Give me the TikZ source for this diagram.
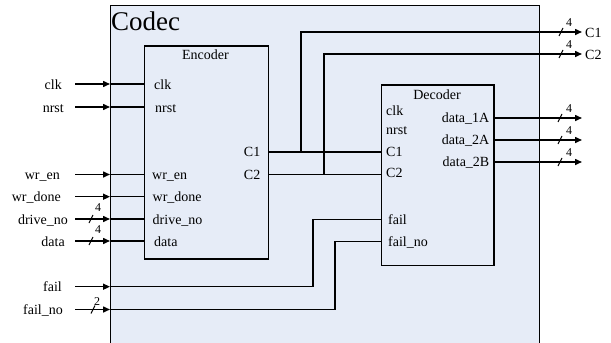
\documentclass[tikz,border=0pt]{standalone}
\usepackage{fontspec}
\setmainfont{Liberation Serif}
\usetikzlibrary{arrows.meta}
\definecolor{boxfill}{RGB}{230,236,247}
\begin{document}
\begin{tikzpicture}[x=1pt,y=-1pt,
  wire/.style={line width=1.5pt},
  arr/.style={wire,-{Triangle[length=7pt,width=6pt]}},
  blk/.style={draw=black,line width=1.5pt,fill=boxfill,inner sep=0pt},
  port/.style={font=\fontsize{14}{16}\selectfont,inner sep=0pt},
  slashmark/.style={line width=1pt},
  busw/.style={font=\fontsize{12}{13}\selectfont,inner sep=0pt}
]
\useasboundingbox (0,0) rectangle (611,343);
% Codec outer block
\node[blk,line width=1.3pt,minimum width=428.5pt,minimum height=338pt,anchor=north west] (codec) at (110,5) {};
\node[anchor=base west,font=\fontsize{27}{29}\selectfont,inner sep=0pt] (title) at (111,30) {Codec};
% Encoder
\node[blk,minimum width=124pt,minimum height=213pt,anchor=north west] (enc) at (143.5,45) {};
\node[port,anchor=base] (enct) at (205.5,59.3) {Encoder};
% Decoder
\node[blk,minimum width=112.5pt,minimum height=180.5pt,anchor=north west] (dec) at (380.5,84) {};
\node[port,anchor=base] (dect) at (437,99.3) {Decoder};

% ---------- left inputs ----------
\node[port,anchor=base east] (lclk) at (62,89) {clk};
\node[port,anchor=base east] (lnrst) at (64,112) {nrst};
\node[port,anchor=base east] (lwren) at (60,179.5) {wr\_en};
\node[port,anchor=base east] (lwrdone) at (61,201.7) {wr\_done};
\node[port,anchor=base east] (ldrive) at (68,224) {drive\_no};
\node[port,anchor=base east] (ldata) at (65,246) {data};
\node[port,anchor=base east] (lfail) at (62,291.7) {fail};
\node[port,anchor=base east] (lfailno) at (63,314.5) {fail\_no};
\foreach \n/\y in {clk/84,nrst/107,wren/174.5,wrdone/196.7,drive/219,data/241,fail/286.7,failno/309.5}{
  \coordinate (s\n) at (75,\y);
  \coordinate (b\n) at (110,\y);
  \draw[arr] (s\n) -- (b\n);
}
% bus marks on inputs
\coordinate (mdrive) at (91,219);
\coordinate (mdata) at (91,241);
\coordinate (mfailno) at (93,309.5);
\foreach \m in {mdrive,mdata,mfailno}{
  \draw[slashmark] ([shift={(-2,4)}]\m) -- ([shift={(2,-4)}]\m);
}
\node[busw] (wdrive) at (98,208) {4};
\node[busw] (wdata) at (98,230) {4};
\node[busw] (wfailno) at (97,302) {2};
% encoder inputs
\foreach \n in {clk,nrst,wren,wrdone,drive,data}{
  \draw[wire] (b\n) -- (enc.west |- b\n);
}
\node[port,anchor=base west] (eclk) at (154,89) {clk};
\node[port,anchor=base west] (enrst) at (155,112) {nrst};
\node[port,anchor=base west] (ewren) at (152,179.5) {wr\_en};
\node[port,anchor=base west] (ewrdone) at (152.5,201.7) {wr\_done};
\node[port,anchor=base west] (edrive) at (152.5,224) {drive\_no};
\node[port,anchor=base west] (edata) at (154,246) {data};
\node[port,anchor=base east] (ec1) at (260.5,156.5) {C1};
\node[port,anchor=base east] (ec2) at (260.5,179) {C2};

% ---------- C1 / C2 ----------
\coordinate (j1) at (301,152);
\coordinate (j2) at (324,174.5);
\coordinate (tc1) at (582,32);
\coordinate (tc2) at (582,54);
\draw[wire] (enc.east |- j1) -- (dec.west |- j1);
\draw[wire] (enc.east |- j2) -- (dec.west |- j2);
\draw[arr] (j1) |- (tc1);
\draw[arr] (j2) |- (tc2);
\coordinate (mc1) at (561,32);
\coordinate (mc2) at (561,54);
\foreach \m in {mc1,mc2}{
  \draw[slashmark] ([shift={(-2,4)}]\m) -- ([shift={(2,-4)}]\m);
}
\node[busw] (wc1) at (569,23) {4};
\node[busw] (wc2) at (569,45) {4};
\node[port,anchor=base west] (oc1) at (585,37) {C1};
\node[port,anchor=base west] (oc2) at (585,59) {C2};

% ---------- fail / fail_no ----------
\coordinate (kf) at (313,219.3);
\coordinate (kfn) at (335,241.7);
\draw[wire] (bfail) -| (kf) -- (dec.west |- kf);
\draw[wire] (bfailno) -| (kfn) -- (dec.west |- kfn);

% decoder labels
\node[port,anchor=base west] (dclk) at (386,115.7) {clk};
\node[port,anchor=base west] (dnrst) at (386,134) {nrst};
\node[port,anchor=base west] (dc1) at (386,156) {C1};
\node[port,anchor=base west] (dc2) at (386,177) {C2};
\node[port,anchor=base west] (dfail) at (388,224) {fail};
\node[port,anchor=base west] (dfailno) at (388,246) {fail\_no};
\node[port,anchor=base east] (d1a) at (489.5,122) {data\_1A};
\node[port,anchor=base east] (d2a) at (489.5,144) {data\_2A};
\node[port,anchor=base east] (d2b) at (489.5,166) {data\_2B};

% decoder outputs
\foreach \n/\y in {oa/118,ob/140,oc/162}{
  \coordinate (t\n) at (582,\y);
  \draw[arr] (dec.east |- t\n) -- (t\n);
  \coordinate (m\n) at (560,\y);
  \draw[slashmark] ([shift={(-2,4)}]m\n) -- ([shift={(2,-4)}]m\n);
  \node[busw] (w\n) at (569,\y-9) {4};
}
\end{tikzpicture}
\end{document}
